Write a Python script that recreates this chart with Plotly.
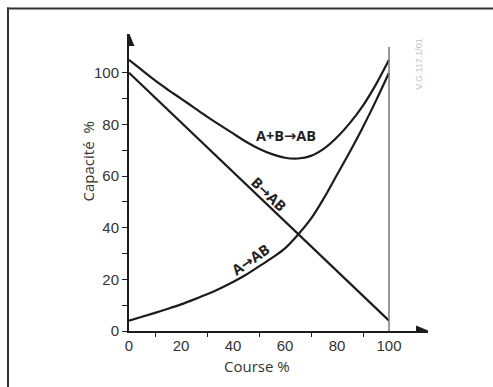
import plotly.graph_objects as go

# Data
course_b = [0, 100]
cap_b = [100, 4]

course_a = [0, 5, 10, 15, 20, 25, 30, 35, 40, 45, 50, 55, 60, 65, 70, 75, 80, 85, 90, 95, 100]
cap_a = [4, 5.5, 7, 8.6, 10.3, 12.2, 14.2, 16.5, 19, 21.8, 25, 28.3, 32, 37.3, 43.5, 51.5, 60.5, 69.5, 79, 89.2, 100]

course_ab = [0, 5, 10, 15, 20, 25, 30, 35, 40, 45, 50, 55, 60, 65, 70, 75, 80, 85, 90, 95, 100]
cap_ab = [105, 101, 97, 93.4, 90, 86.5, 83, 79.7, 76.5, 73.3, 70.6, 68.5, 67.1, 66.8, 67.8, 70.6, 75, 80.6, 87.3, 95.5, 105]

x_major = [0, 20, 40, 60, 80, 100]
x_minor = [10, 30, 50, 70, 90]
y_major = [0, 20, 40, 60, 80, 100]
y_minor = [10, 30, 50, 70, 90]

labels = ["A+B", "B", "A"]
label_x = [60.4, 54, 46.8]
label_y = [75.8, 53, 27.5]
label_angle = [0, 44, -35]

ink = "#1c1c1c"
fig = go.Figure()
for xs, ys in [(course_b, cap_b), (course_a, cap_a), (course_ab, cap_ab)]:
    fig.add_trace(go.Scatter(x=xs, y=ys, mode="lines",
                             line=dict(color=ink, width=2.2, shape="spline", smoothing=1),
                             hoverinfo="skip", showlegend=False, cliponaxis=False))

arrow = "<span style='font-family:DejaVu Sans'>\u2192</span>"
for t, x, y, a in zip(labels, label_x, label_y, label_angle):
    fig.add_annotation(x=x, y=y, text="<b>%s%sAB</b>" % (t, arrow), showarrow=False, textangle=a,
                       xanchor="center", yanchor="middle",
                       font=dict(family="Open Sans", size=14.5, color="#222"))

# Axis titles
fig.add_annotation(x=0.428, xref="paper", y=-0.118, yref="paper", text="Course %",
                   xanchor="center", yanchor="middle",
                   showarrow=False, font=dict(family="Open Sans", size=15, color="#333"))
fig.add_annotation(x=-0.138, xref="paper", y=0.57, yref="paper", text="Capacit\u00e9  %",
                   xanchor="center", yanchor="middle",
                   textangle=-90, showarrow=False, font=dict(family="Open Sans", size=15, color="#333"))
# watermark
fig.add_annotation(x=0.97, xref="paper", y=0.9, yref="paper", text="V.G.117.1/01",
                   xanchor="center", yanchor="middle",
                   textangle=-90, showarrow=False, font=dict(family="Liberation Sans", size=9, color="#c4c4c4"))

# vertical line at 100
fig.add_shape(type="line", x0=100, x1=100, y0=0, y1=110, xref="x", yref="y",
              line=dict(color="#808080", width=1.6))
# arrow heads
fig.add_shape(type="path", xref="x", yref="y", xsizemode="pixel", ysizemode="pixel",
              xanchor=115, yanchor=0, path="M1,0 L-12,5.5 L-12,-5.5 Z", fillcolor=ink,
              line=dict(color=ink, width=0))
fig.add_shape(type="path", xref="x", yref="y", xsizemode="pixel", ysizemode="pixel",
              xanchor=0, yanchor=115, path="M0,1 L-5.5,-12 L5.5,-12 Z", fillcolor=ink,
              line=dict(color=ink, width=0))
# frame (top and left edges)
px = lambda p: (p - 129) / 299
py = lambda p: (331 - p) / 297.5
fig.add_shape(type="line", xref="paper", yref="paper", x0=px(7), x1=px(493), y0=py(8), y1=py(8),
              line=dict(color="#333", width=2))
fig.add_shape(type="line", xref="paper", yref="paper", x0=px(8), x1=px(8), y0=py(7), y1=py(387),
              line=dict(color="#333", width=2))

fig.update_xaxes(range=[0, 115], showline=True, linecolor=ink, linewidth=2,
                 tickvals=x_major, ticks="outside", ticklen=0, showgrid=False, zeroline=False,
                 tickfont=dict(family="Liberation Sans", size=15, color="#333"),
                 minor=dict(tickvals=x_minor, ticks="outside", ticklen=4, tickcolor=ink, tickwidth=1.2))
fig.update_yaxes(range=[0, 115], showline=True, linecolor=ink, linewidth=2,
                 tickvals=y_major, ticks="outside", ticklen=5, tickcolor=ink, tickwidth=1.2,
                 showgrid=False, zeroline=False,
                 tickfont=dict(family="Liberation Sans", size=15, color="#333"),
                 minor=dict(tickvals=y_minor, ticks="outside", ticklen=5, tickcolor=ink, tickwidth=1.2))
fig.update_layout(width=493, height=387, autosize=False,
                  margin=dict(l=129, r=65, t=33.5, b=56),
                  paper_bgcolor="white", plot_bgcolor="white")
fig.write_html("out.html", config={"displayModeBar": False},
               post_script="document.body.style.margin='0';document.body.style.overflow='hidden';"
                           "document.documentElement.style.overflow='hidden';")
